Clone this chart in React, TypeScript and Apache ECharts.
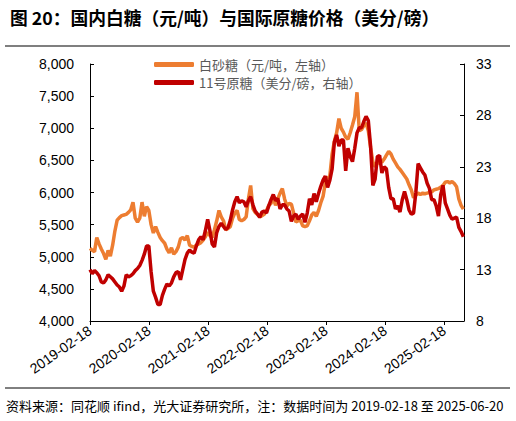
import React, { useEffect, useRef } from 'react';
import * as echarts from 'echarts';

// ---- data ----
const START_UTC = Date.UTC(2019, 1, 18); // 2019-02-18
const STEP_DAYS = 14;
const END_DAY = 2314; // 2025-06-20

const xTickLabels = ['2019-02-18', '2020-02-18', '2021-02-18', '2022-02-18', '2023-02-18', '2024-02-18', '2025-02-18'];
const leftTicks = { min: 4000, max: 8000, interval: 500 };
const rightTicks = { min: 8, max: 33, interval: 5 };

const seriesNames = ['白砂糖（元/吨，左轴）', '11号原糖（美分/磅，右轴）'];

// 白砂糖 (元/吨), left axis
const sugarCNY = [
  5130, 5100, 5080, 5300, 5200, 5120, 5050, 4960, 5100, 5010,
  5180, 5400, 5570, 5610, 5640, 5650, 5660, 5690, 5730, 5850,
  5600, 5540, 5600, 5850, 5630, 5780, 5720, 5500, 5370, 5470,
  5380, 5300, 5250, 5210, 5120, 5060, 5140, 5040, 5080, 5150,
  5280, 5300, 5260, 5330, 5180, 5160, 5150, 5180, 5200, 5220,
  5260, 5310, 5380, 5330, 5300, 5420, 5560, 5720, 5620, 5560,
  5420, 5440, 5470, 5600, 5680, 5720, 5580, 5560, 5580, 5620,
  5900, 6110, 5750, 5690, 5660, 5620, 5640, 5660, 5720, 5800,
  5830, 5920, 5800, 5900, 5990, 6060, 5900, 5790, 5830, 5820,
  5680, 5540, 5560, 5570, 5480, 5470, 5480, 5560, 5650, 5690,
  5630, 5720, 5840, 5940, 6150, 6220, 6260, 6600, 6800, 6930,
  7150, 7000, 6940, 6860, 6830, 6930, 7050, 7180, 7560, 6960,
  6980, 7040, 7080, 6960, 6700, 6480, 6400, 6450, 6500, 6470,
  6520, 6580, 6640, 6600, 6520, 6460, 6400, 6360, 6310, 6260,
  6210, 6120, 6040, 5920, 5960, 5990, 5970, 5990, 5980, 5990,
  6000, 6010, 6040, 6050, 6060, 6080, 6110, 6160, 6170, 6150,
  6170, 6140, 6090, 5900, 5800, 5740,
];

// 11号原糖 (美分/磅), right axis
const rawSugar = [
  13.0, 12.6, 12.9, 12.7, 12.4, 11.8, 11.7, 12.0, 12.5, 12.3,
  12.1, 11.8, 11.5, 11.3, 10.9, 11.4, 12.5, 12.3, 12.4, 12.6,
  12.9, 13.1, 13.4, 13.9, 14.5, 15.3, 15.3, 12.8, 10.9, 10.3,
  9.6, 9.6, 10.5, 11.1, 11.6, 11.4, 11.7, 12.3, 12.7, 12.8,
  12.0, 13.0, 14.0, 14.6, 14.9, 14.7, 14.6, 15.3, 15.9, 16.2,
  15.9, 16.8, 17.9, 16.8, 15.5, 15.2, 16.6, 17.2, 17.5, 17.2,
  16.9, 17.1, 17.8, 18.8, 19.6, 20.1, 19.5, 19.7, 19.6, 19.1,
  19.7, 20.1, 19.3, 18.7, 18.4, 18.1, 18.6, 18.7, 18.5, 19.2,
  19.8, 20.3, 19.7, 19.9, 18.9, 19.3, 19.3, 18.9, 18.7, 17.7,
  18.2, 18.4, 17.9, 18.2, 18.4, 17.6, 18.5, 19.9, 19.3, 20.4,
  19.6, 20.4, 21.1, 21.7, 22.1, 21.0, 21.7, 22.8, 25.4, 26.1,
  25.0, 25.6, 25.6, 22.6, 24.8, 24.0, 23.5, 24.8, 26.3, 26.8,
  26.8, 27.4, 27.9, 27.5, 25.0, 21.2, 21.8, 24.0, 24.1, 22.4,
  23.0, 22.8, 21.0, 19.9, 19.9, 18.9, 19.2, 18.6, 19.8, 20.6,
  19.8, 18.8, 18.4, 18.5, 20.5, 23.3, 22.9, 22.5, 22.2, 21.4,
  20.9, 19.8, 19.8, 19.2, 18.2, 20.3, 21.2, 19.5, 18.9, 18.3,
  17.9, 18.0, 18.1, 17.1, 16.7, 16.2,
];

const TITLE = '图 20：国内白糖（元/吨）与国际原糖价格（美分/磅）';
const SOURCE = '资料来源：同花顺 ifind，光大证券研究所，注：数据时间为 2019-02-18 至 2025-06-20';

const YEAR_DAYS = 365.25;
const CJK = '"Noto Sans CJK SC", "Noto Sans", sans-serif';
const NUM = '"Liberation Sans", Arial, sans-serif';

export default function App() {
  const ref = useRef<HTMLDivElement>(null);

  useEffect(() => {
    if (!ref.current) return;
    const chart = echarts.init(ref.current, undefined, { renderer: 'svg' });
    const toPairs = (arr: number[]) => arr.map((v, i) => [i * STEP_DAYS, v]);

    chart.setOption({
      animation: false,
      backgroundColor: '#ffffff',
      title: {
        text: TITLE,
        left: 5,
        top: 3,
        textStyle: { fontFamily: CJK, fontSize: 17.75, fontWeight: 'bold', color: '#000' },
      },
      graphic: [
        { type: 'line', shape: { x1: 5, y1: 46, x2: 510, y2: 46 }, style: { stroke: '#555', lineWidth: 1.5 } },
        { type: 'line', shape: { x1: 5, y1: 388, x2: 510, y2: 388 }, style: { stroke: '#000', lineWidth: 1 } },
        {
          type: 'text',
          left: 6,
          top: 399,
          style: { text: SOURCE, fontFamily: CJK, fontSize: 13, fill: '#000' },
        },
      ],
      legend: {
        orient: 'vertical',
        left: 154,
        top: 58,
        padding: 0,
        itemWidth: 40,
        itemHeight: 5,
        itemGap: 5,
        icon: 'roundRect',
        data: seriesNames,
        textStyle: { fontFamily: CJK, fontSize: 13, color: '#595959' },
      },
      grid: { left: 90, right: 52, top: 64, bottom: 100, containLabel: false },
      xAxis: {
        type: 'value',
        min: 0,
        max: END_DAY,
        interval: YEAR_DAYS,
        splitLine: { show: false },
        axisLine: { show: true, lineStyle: { color: '#000', width: 1 } },
        axisTick: { show: true, inside: false, length: 4, lineStyle: { color: '#000' } },
        axisLabel: {
          rotate: 35,
          margin: 8,
          fontFamily: NUM,
          fontSize: 14,
          color: '#000',
          showMaxLabel: false,
          formatter: (v: number) => {
            const k = Math.round(v / YEAR_DAYS);
            if (Math.abs(v - k * YEAR_DAYS) > 1) return '';
            return xTickLabels[k] ?? '';
          },
        },
      },
      yAxis: [
        {
          type: 'value',
          position: 'left',
          min: leftTicks.min,
          max: leftTicks.max,
          interval: leftTicks.interval,
          splitLine: { show: false },
          axisLine: { show: true, lineStyle: { color: '#000', width: 1 } },
          axisTick: { show: true, inside: true, length: 4, lineStyle: { color: '#000' } },
          axisLabel: {
            margin: 16,
            fontFamily: NUM,
            fontSize: 14,
            color: '#000',
            formatter: (v: number) => v.toLocaleString('en-US'),
          },
        },
        {
          type: 'value',
          position: 'right',
          min: rightTicks.min,
          max: rightTicks.max,
          interval: rightTicks.interval,
          splitLine: { show: false },
          axisLine: { show: true, lineStyle: { color: '#000', width: 1 } },
          axisTick: { show: true, inside: true, length: 4, lineStyle: { color: '#000' } },
          axisLabel: { margin: 12, fontFamily: NUM, fontSize: 14, color: '#000' },
        },
      ],
      series: [
        {
          name: seriesNames[0],
          type: 'line',
          yAxisIndex: 0,
          data: toPairs(sugarCNY),
          showSymbol: false,
          symbol: 'none',
          lineStyle: { color: '#ED7D31', width: 3.5 },
          itemStyle: { color: '#ED7D31' },
        },
        {
          name: seriesNames[1],
          type: 'line',
          yAxisIndex: 1,
          data: toPairs(rawSugar),
          showSymbol: false,
          symbol: 'none',
          lineStyle: { color: '#C00000', width: 3.5 },
          itemStyle: { color: '#C00000' },
        },
      ],
    });

    return () => chart.dispose();
  }, []);

  return (
    <div
      ref={ref}
      style={{ position: 'fixed', left: 0, top: 0, width: 516, height: 421, background: '#fff' }}
    />
  );
}
